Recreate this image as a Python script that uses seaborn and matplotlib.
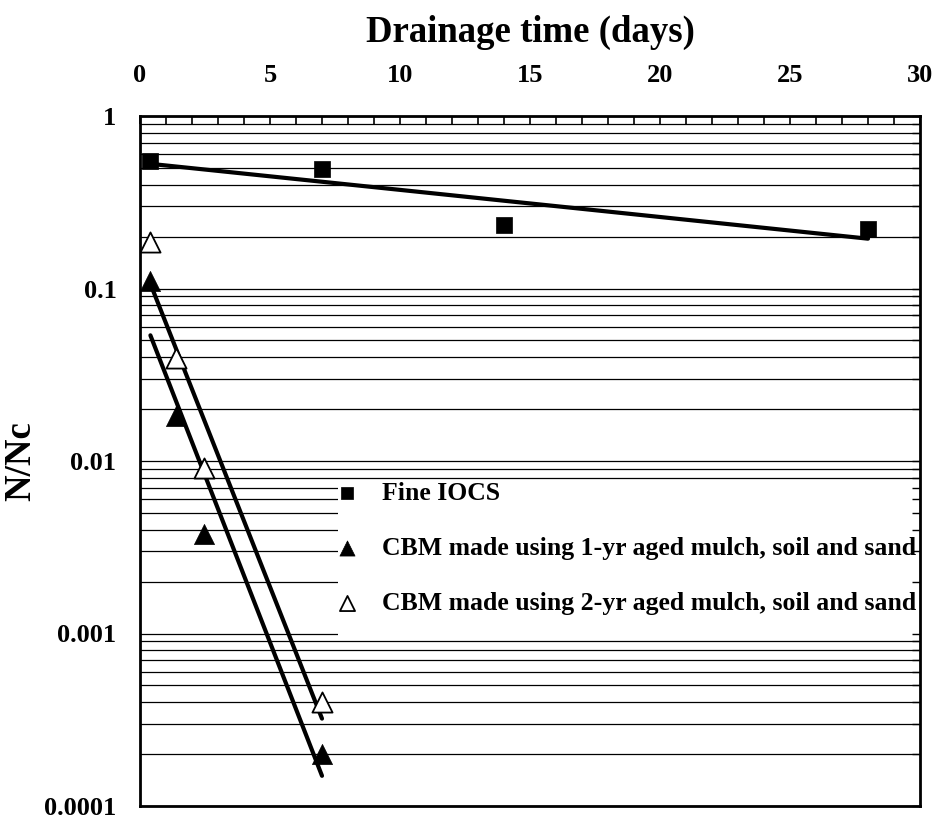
import numpy as np
import pandas as pd
import matplotlib
matplotlib.use("Agg")
import matplotlib.pyplot as plt
import seaborn as sns
from matplotlib.ticker import FixedLocator, MultipleLocator, FuncFormatter, LogLocator, NullFormatter
from matplotlib.patches import Rectangle

# ---- data ----
iocs_days = [0.4, 7, 14, 28]
iocs_ratio = [0.551, 0.49, 0.232, 0.22]
cbm1_days = [0.4, 1.4, 2.45, 7]
cbm1_ratio = [0.111, 0.0182, 0.00377, 0.000199]
cbm2_days = [0.4, 1.4, 2.45, 7]
cbm2_ratio = [0.185, 0.0394, 0.00907, 0.000401]
labels = ["Fine IOCS",
          "CBM made using 1-yr aged mulch, soil and sand",
          "CBM made using 2-yr aged mulch, soil and sand"]
x_ticks = [0, 5, 10, 15, 20, 25, 30]
y_ticks = [1, 0.1, 0.01, 0.001, 0.0001]

sns.set_style("white")
plt.rcParams["font.family"] = ["Liberation Serif", "DejaVu Serif"]
plt.rcParams["font.weight"] = "bold"
plt.rcParams["text.color"] = "black"
plt.rcParams["axes.labelcolor"] = "black"
plt.rcParams["xtick.color"] = "black"
plt.rcParams["ytick.color"] = "black"

fig = plt.figure(figsize=(9.34, 8.19), dpi=100)
ax = fig.add_axes([140/934, 1-806/819, 780/934, 690/819])

def fit_line(x, y):
    x = np.asarray(x, float); ly = np.log10(np.asarray(y, float))
    k, b = np.polyfit(x, ly, 1)
    xs = np.linspace(x.min(), x.max(), 50)
    return pd.DataFrame({"x": xs, "y": 10 ** (k * xs + b)})

for xs, ys in [(iocs_days, iocs_ratio), (cbm1_days, cbm1_ratio), (cbm2_days, cbm2_ratio)]:
    f = fit_line(xs, ys)
    sns.lineplot(data=f, x="x", y="y", ax=ax, color="black", lw=3, zorder=3)

sns.scatterplot(x=iocs_days, y=iocs_ratio, ax=ax, marker="s", s=130, color="black",
                edgecolor="black", linewidth=0.5, zorder=4, label=labels[0])
sns.scatterplot(x=cbm1_days, y=cbm1_ratio, ax=ax, marker="^", s=210, color="black",
                edgecolor="black", linewidth=0.5, zorder=4, label=labels[1])
sns.scatterplot(x=cbm2_days, y=cbm2_ratio, ax=ax, marker="^", s=210, facecolor="white",
                edgecolor="black", linewidth=1.3, zorder=4, label=labels[2])

ax.set_yscale("log")
ax.set_ylim(0.0001, 1)
ax.set_xlim(0, 30)

ax.yaxis.set_major_locator(FixedLocator(y_ticks))
ax.yaxis.set_major_formatter(FuncFormatter(lambda v, p: "%g" % v))
ax.yaxis.set_minor_locator(LogLocator(base=10, subs=np.arange(2, 10), numticks=20))
ax.yaxis.set_minor_formatter(NullFormatter())
ax.grid(True, axis="y", which="both", color="black", lw=0.9)
ax.set_axisbelow(True)

ax.xaxis.tick_top()
ax.xaxis.set_label_position("top")
ax.xaxis.set_major_locator(FixedLocator(x_ticks))
ax.xaxis.set_minor_locator(MultipleLocator(1))
ax.tick_params(axis="x", which="both", direction="in", length=6, width=1.2, color="black",
               top=True, bottom=False, labelsize=19, pad=21)
ax.tick_params(axis="y", which="both", length=0, labelsize=19, pad=17)
for lab in ax.get_xticklabels() + ax.get_yticklabels():
    lab.set_fontweight("bold")

for sp in ax.spines.values():
    sp.set_color("black")
    sp.set_linewidth(2)

ax.set_xlabel("Drainage time (days)", fontsize=26.5, fontweight="bold", labelpad=16)
ax.set_ylabel("N/Nc", fontsize=26.5, fontweight="bold", labelpad=4)

# white background behind legend (covers gridlines)
ax.add_patch(Rectangle((0.254, 0.241), 0.746, 0.230, transform=ax.transAxes,
                       facecolor="white", edgecolor="none", zorder=2))

# right-side inward ticks drawn on top
ax2 = ax.twinx()
ax2.set_yscale("log")
ax2.set_ylim(0.0001, 1)
ax2.yaxis.set_major_locator(FixedLocator(y_ticks))
ax2.yaxis.set_minor_locator(LogLocator(base=10, subs=np.arange(2, 10), numticks=20))
ax2.yaxis.set_major_formatter(NullFormatter())
ax2.yaxis.set_minor_formatter(NullFormatter())
ax2.tick_params(axis="y", which="both", direction="in", length=6, width=1, color="black")
for sp in ax2.spines.values():
    sp.set_visible(False)

handles, labs = ax.get_legend_handles_labels()
leg = ax.legend(handles, labs, loc="upper left", bbox_to_anchor=(0.2526, 0.4696),
                frameon=False, borderpad=0, borderaxespad=0, handlelength=0.8,
                handletextpad=0.94, labelspacing=1.24, markerscale=0.75,
                prop={"family": "Liberation Serif", "weight": "bold", "size": 18.5})

fig.savefig("out.png", dpi=100)
